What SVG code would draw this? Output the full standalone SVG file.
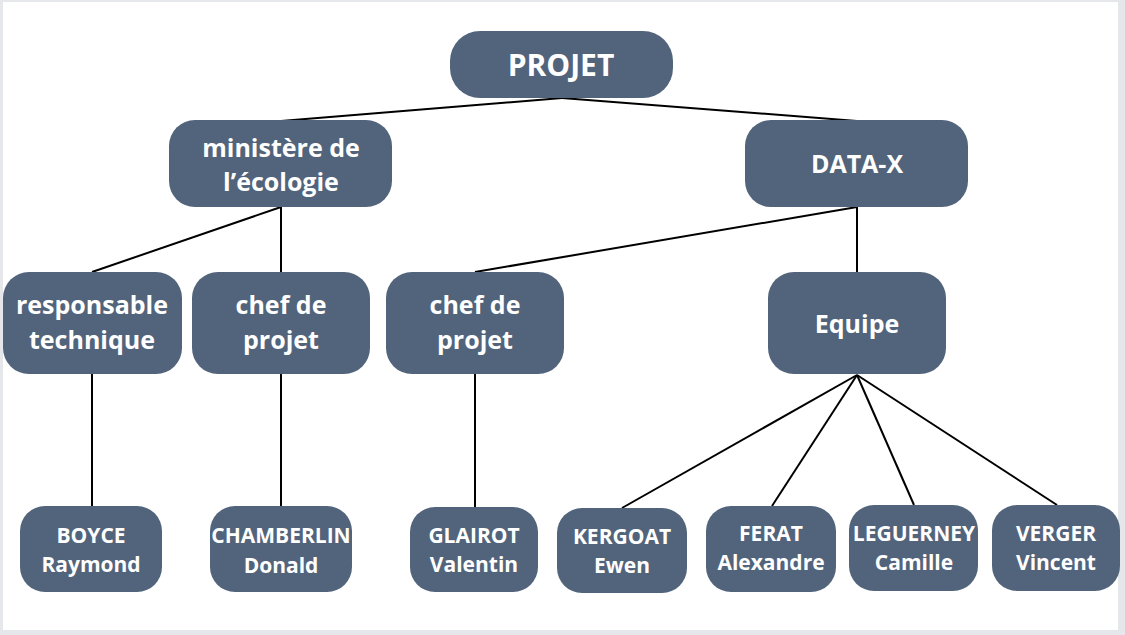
<svg xmlns="http://www.w3.org/2000/svg" width="1125" height="635" viewBox="0 0 1125 635">
<style>
.n{fill:#52647b}
.t{font-family:"Open Sans","Noto Sans","DejaVu Sans",sans-serif;font-weight:bold;fill:#ffffff;text-anchor:middle}
.l{font-size:25px}
.s{font-size:21px}
.c line{stroke:#000;stroke-width:2;fill:none}
</style>
<rect x="0" y="0" width="1125" height="635" fill="#e6e7eb"/>
<rect x="3" y="2" width="1115" height="628" fill="#ffffff"/>
<g class="c" id="connectors">
<line x1="562" y1="98" x2="281" y2="121"/>
<line x1="562" y1="98" x2="857" y2="121"/>
<line x1="281" y1="207" x2="92" y2="272"/>
<line x1="281" y1="207" x2="281" y2="272"/>
<line x1="857" y1="207" x2="475" y2="272"/>
<line x1="857" y1="207" x2="857" y2="272"/>
<line x1="92" y1="374" x2="92" y2="506"/>
<line x1="281" y1="374" x2="281" y2="506"/>
<line x1="475" y1="374" x2="475" y2="507"/>
<line x1="857" y1="375" x2="622" y2="508"/>
<line x1="857" y1="375" x2="772" y2="506"/>
<line x1="857" y1="375" x2="914" y2="505"/>
<line x1="857" y1="375" x2="1057" y2="505"/>
</g>
<g id="projet"><rect class="n" x="450" y="31" width="223" height="67" rx="30"/><text class="t" x="561" y="76" font-size="30">PROJET</text></g>
<g id="ministere"><rect class="n" x="169" y="120" width="223" height="87" rx="26"/><text class="t l" x="281" y="157">ministère de</text><text class="t l" x="281" y="191">l’écologie</text></g>
<g id="datax"><rect class="n" x="745" y="120" width="223" height="87" rx="26"/><text class="t l" x="857" y="173">DATA-X</text></g>
<g id="responsable"><rect class="n" x="3" y="272" width="179" height="102" rx="26"/><text class="t l" x="92" y="314">responsable</text><text class="t l" x="92" y="349">technique</text></g>
<g id="chef1"><rect class="n" x="192" y="272" width="178" height="102" rx="26"/><text class="t l" x="281" y="314">chef de</text><text class="t l" x="281" y="349">projet</text></g>
<g id="chef2"><rect class="n" x="386" y="272" width="178" height="102" rx="26"/><text class="t l" x="475" y="314">chef de</text><text class="t l" x="475" y="349">projet</text></g>
<g id="equipe"><rect class="n" x="768" y="272" width="178" height="102" rx="26"/><text class="t l" x="857" y="333">Equipe</text></g>
<g id="boyce"><rect class="n" x="20" y="506" width="142" height="86" rx="25"/><text class="t s" x="91" y="543">BOYCE</text><text class="t s" x="91" y="572">Raymond</text></g>
<g id="chamberlin"><rect class="n" x="210" y="506" width="142" height="86" rx="25"/><text class="t s" x="281" y="543">CHAMBERLIN</text><text class="t s" x="281" y="573">Donald</text></g>
<g id="glairot"><rect class="n" x="410" y="507" width="128" height="85" rx="25"/><text class="t s" x="474" y="543">GLAIROT</text><text class="t s" x="474" y="572">Valentin</text></g>
<g id="kergoat"><rect class="n" x="557" y="508" width="130" height="85" rx="25"/><text class="t s" x="622" y="544">KERGOAT</text><text class="t s" x="622" y="573">Ewen</text></g>
<g id="ferat"><rect class="n" x="706" y="506" width="130" height="86" rx="25"/><text class="t s" x="771" y="541">FERAT</text><text class="t s" x="771" y="570">Alexandre</text></g>
<g id="leguerney"><rect class="n" x="849" y="505" width="129" height="86" rx="25"/><text class="t s" x="914" y="541">LEGUERNEY</text><text class="t s" x="914" y="570">Camille</text></g>
<g id="verger"><rect class="n" x="992" y="505" width="128" height="86" rx="25"/><text class="t s" x="1056" y="541">VERGER</text><text class="t s" x="1056" y="570">Vincent</text></g>
</svg>
